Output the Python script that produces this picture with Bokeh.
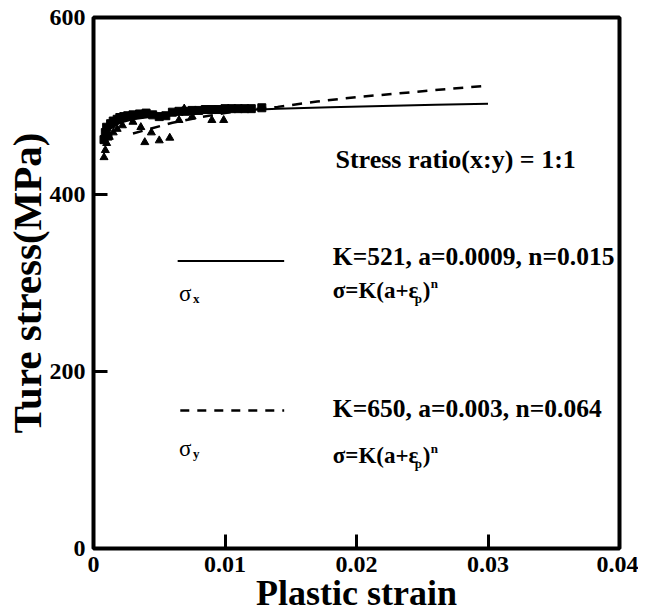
from bokeh.plotting import figure
from bokeh.models import FixedTicker, Label
from bokeh.embed import file_html
from bokeh.resources import INLINE

# ---- data ----
sx_strain = [0.0008, 0.0009, 0.0010, 0.0011, 0.0013, 0.0015, 0.0018, 0.0020, 0.0023, 0.0026,
             0.0030, 0.0035, 0.0040, 0.0045, 0.0050, 0.0055, 0.0060, 0.0065, 0.0070, 0.0075,
             0.0080, 0.0085, 0.0090, 0.0095, 0.0100, 0.0105, 0.0110, 0.0115, 0.0120, 0.0128]
sx_stress = [462, 470, 476, 466, 480, 483, 485, 487, 488, 489,
             490, 491, 492, 490, 488, 489, 493, 494, 494, 495,
             495, 496, 496, 496, 497, 497, 497, 497, 497, 498]

sy_strain = [0.0008, 0.0009, 0.0010, 0.0012, 0.0015, 0.0018, 0.0022, 0.0030, 0.0036, 0.0039,
             0.0044, 0.0050, 0.0058, 0.0065, 0.0069, 0.0075, 0.0090, 0.0099]
sy_stress = [442, 450, 458, 465, 470, 474, 478, 482, 476, 459,
             470, 461, 464, 484, 497, 488, 484, 484]

fit_x_strain = [0.001, 0.002, 0.003, 0.005, 0.008, 0.011, 0.014, 0.018, 0.022, 0.026, 0.030]
fit_x_stress = [472, 481, 485, 489, 492, 495, 497, 498.5, 500, 501.5, 502.5]

fit_y_strain = [0.003, 0.004, 0.006, 0.008, 0.010, 0.012, 0.014, 0.017, 0.020, 0.023, 0.026, 0.030]
fit_y_stress = [469, 473, 481, 487, 492, 496, 499, 505, 510, 514, 518, 523]

x_ticks = [0, 0.01, 0.02, 0.03, 0.04]
x_tick_labels = ["0", "0.01", "0.02", "0.03", "0.04"]
y_ticks = [0, 200, 400, 600]

FONT = "Liberation Serif"

p = figure(width=638, height=616, x_range=(0, 0.04), y_range=(0, 600),
           output_backend="svg", toolbar_location=None,
           min_border_left=92, min_border_right=19, min_border_top=17, min_border_bottom=68)
p.xgrid.visible = False
p.ygrid.visible = False
p.outline_line_color = "black"
p.outline_line_width = 4
p.outline_line_alpha = 1

for ax in (p.xaxis[0], p.yaxis[0]):
    ax.axis_line_color = None
    ax.major_tick_in = 14
    ax.major_tick_out = 0
    ax.major_tick_line_width = 3
    ax.major_tick_line_color = "black"
    ax.minor_tick_line_color = None
    ax.major_label_text_font = FONT
    ax.major_label_text_font_style = "bold"
    ax.major_label_text_font_size = "24px"
    ax.major_label_text_color = "black"
    ax.axis_label_text_font = FONT
    ax.axis_label_text_font_style = "bold"
    ax.axis_label_text_color = "black"

p.xaxis.axis_label_text_font_size = "36px"
p.yaxis.axis_label_text_font_size = "41px"
p.xaxis.ticker = FixedTicker(ticks=x_ticks)
p.xaxis.major_label_overrides = dict(zip(x_ticks, x_tick_labels))
p.yaxis.ticker = FixedTicker(ticks=y_ticks)
p.xaxis.axis_label = "Plastic strain"
p.yaxis.axis_label = "Ture stress(MPa)"
p.xaxis.major_label_standoff = 8
p.yaxis.major_label_standoff = 8
p.xaxis.axis_label_standoff = -2
p.yaxis.axis_label_standoff = -3

# fitted curves
p.line(fit_x_strain, fit_x_stress, line_color="black", line_width=2)
p.line(fit_y_strain, fit_y_stress, line_color="black", line_width=2.5, line_dash="10 8")

# experimental points
p.scatter(sx_strain, sx_stress, marker="square", size=8, fill_color="black", line_color="black")
p.scatter(sy_strain, sy_stress, marker="triangle", size=8, fill_color="black", line_color="black")

# legend-like annotations
p.line([0.0064, 0.0145], [325, 325], line_color="black", line_width=2)
p.line([0.0066, 0.0145], [156, 156], line_color="black", line_width=2.5, line_dash="9 8")

def lab(x, y, text, size="25px", style="bold", xoff=0, yoff=0):
    p.add_layout(Label(x=x, y=y, x_offset=xoff, y_offset=yoff, text=text,
                       text_font=FONT, text_font_style=style, text_font_size=size,
                       text_baseline="middle", text_align="left", text_color="black"))

lab(0.0184, 439, "Stress ratio(x:y) = 1:1", size="26px")
lab(0.0182, 330, "K=521, a=0.0009, n=0.015", size="25.5px")
lab(0.0182, 158, "K=650, a=0.003, n=0.064", size="25.5px")

def formula(x, y):
    lab(x, y, "σ=K(a+ε", size="23px")
    lab(x, y, "p", size="13px", xoff=82, yoff=-8)
    lab(x, y, ")", size="23px", xoff=90)
    lab(x, y, "n", size="13px", xoff=98, yoff=7)

formula(0.0182, 291)
formula(0.0182, 105)

def sigma(x, y, sub):
    lab(x, y, "σ", size="23px", style="normal")
    lab(x, y, sub, size="13px", xoff=14, yoff=-5)

sigma(0.0065, 288, "x")
sigma(0.0065, 113, "y")

open("out.html", "w").write(file_html(p, INLINE))
